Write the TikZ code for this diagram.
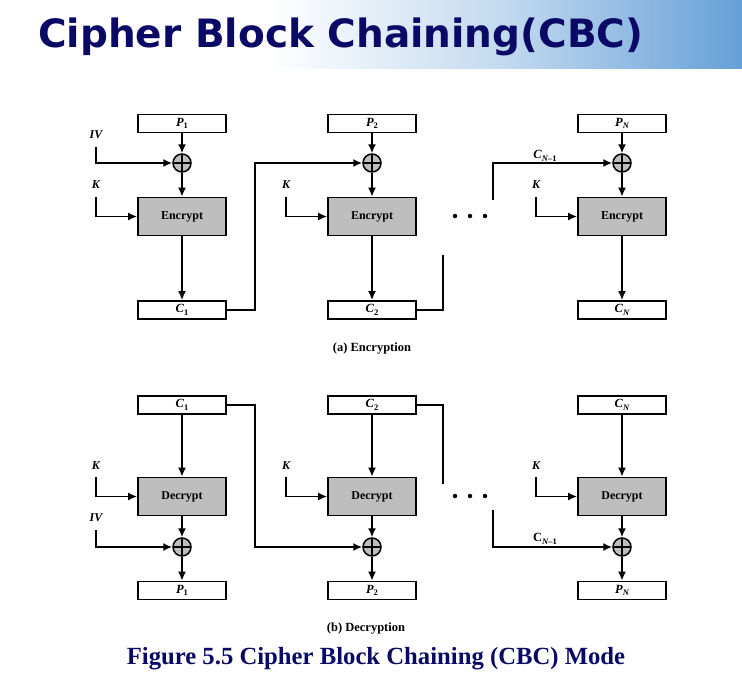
\documentclass[tikz,border=0pt]{standalone}
\usepackage{fontspec}
\setmainfont{Liberation Serif}
\newfontfamily\titlefont{DejaVu Sans}
\usetikzlibrary{arrows.meta}
\definecolor{navy}{HTML}{0A0A66}
\definecolor{bannerblue}{HTML}{66A0D8}
\definecolor{boxgray}{HTML}{BEBEBE}
\newcommand\lab[2]{\textbf{\textit{#1}}\raisebox{-2.5pt}{\fontsize{8.5}{8.5}\selectfont\bfseries #2}}
\begin{document}
\begin{tikzpicture}[x=1pt,y=-1pt,
 txtbox/.style={draw, line width=1.8pt, minimum width=88pt, minimum height=18pt, inner sep=0pt, fill=white, font=\fontsize{12.5}{14}\selectfont},
 cipher/.style={draw, line width=1.8pt, fill=boxgray, minimum width=88pt, minimum height=38pt, inner sep=0pt, font=\bfseries\fontsize{12}{14}\selectfont},
 xor/.style={circle, draw, line width=1.5pt, fill=boxgray, minimum size=18pt, inner sep=0pt, path picture={\draw[line width=1.2pt] (path picture bounding box.north) -- (path picture bounding box.south) (path picture bounding box.west) -- (path picture bounding box.east);}},
 conn/.style={line width=1.6pt},
 arr/.style={conn, -{Latex[length=9pt,width=8pt]}},
 lbl/.style={font=\bfseries\itshape\fontsize{12}{14}\selectfont, inner sep=0pt},
 dot/.style={circle, fill=black, minimum size=4.5pt, inner sep=0pt},
 captext/.style={font=\bfseries\fontsize{12.5}{14}\selectfont},
]
\useasboundingbox (0,0) rectangle (742,678);
% banner
\fill[white] (0,0) rectangle (742,68);
\shade[left color=white, right color=bannerblue, middle color=bannerblue!40] (270,0) rectangle (742,68);
\node[anchor=base west, text=navy, font=\titlefont\bfseries\fontsize{39}{44}\selectfont, inner sep=0pt] (title) at (38,47) {Cipher Block Chaining(CBC)};

% ===== Encryption =====
\foreach \n/\x/\s in {1/182/1, 2/372/2, N/622/{\itshape N}} {
  \node[txtbox] (p\n) at (\x,123.5) {\lab{P}{\s}};
  \node[xor] (x\n) at (\x,163) {};
  \node[cipher] (e\n) at (\x,216.5) {Encrypt};
  \node[txtbox] (c\n) at (\x,310) {\lab{C}{\s}};
  \draw[arr] (p\n) -- (x\n);
  \draw[arr] (x\n) -- (e\n);
  \draw[arr] (e\n) -- (c\n);
}
\node[lbl] (ivA) at (96,135) {IV};
\coordinate (ivAs) at (96,147);
\draw[arr] (ivAs) |- (x1.west);
\foreach \n/\kx in {1/96, 2/286, N/536} {
  \node[lbl] (kA\n) at (\kx,185) {K};
  \coordinate (kAs\n) at (\kx,197);
  \draw[arr] (kAs\n) |- (e\n.west);
}
\draw[arr] (c1.east) -- ++(28,0) |- (x2.west);
\coordinate (fA) at (443,255);
\draw[conn] (c2.east) -| (fA);
\node[dot] (dA1) at (455,216) {};
\node[dot] (dA2) at (470,216) {};
\node[dot] (dA3) at (485,216) {};
\coordinate (gA) at (493,200);
\draw[arr] (gA) |- (xN.west);
\node[inner sep=0pt, font=\fontsize{12.5}{14}\selectfont] (cnA) at (545,156) {\lab{C}{\itshape N\upshape\textendash1}};
\node[captext] (capA) at (372,349) {(a) Encryption};

% ===== Decryption =====
\foreach \n/\x/\s in {1/182/1, 2/372/2, N/622/{\itshape N}} {
  \node[txtbox] (q\n) at (\x,405) {\lab{C}{\s}};
  \node[cipher] (d\n) at (\x,496.5) {Decrypt};
  \node[xor] (y\n) at (\x,547) {};
  \node[txtbox] (r\n) at (\x,590.5) {\lab{P}{\s}};
  \draw[arr] (q\n) -- (d\n);
  \draw[arr] (d\n) -- (y\n);
  \draw[arr] (y\n) -- (r\n);
}
\foreach \n/\kx in {1/96, 2/286, N/536} {
  \node[lbl] (kB\n) at (\kx,466) {K};
  \coordinate (kBs\n) at (\kx,477);
  \draw[arr] (kBs\n) |- (d\n.west);
}
\node[lbl] (ivB) at (96,518) {IV};
\coordinate (ivBs) at (96,530);
\draw[arr] (ivBs) |- (y1.west);
\draw[arr] (q1.east) -- ++(28,0) |- (y2.west);
\coordinate (fB) at (443,484);
\draw[conn] (q2.east) -| (fB);
\node[dot] (dB1) at (455,496) {};
\node[dot] (dB2) at (470,496) {};
\node[dot] (dB3) at (485,496) {};
\coordinate (gB) at (493,510);
\draw[arr] (gB) |- (yN.west);
\node[inner sep=0pt, font=\fontsize{12.5}{14}\selectfont] (cnB) at (545,539) {\textbf{C}\raisebox{-2.5pt}{\fontsize{8.5}{8.5}\selectfont\bfseries\itshape N\upshape\textendash1}};
\node[captext] (capB) at (366,629) {(b) Decryption};

\node[text=navy, font=\bfseries\fontsize{24.7}{28}\selectfont] (fig) at (376,659) {Figure 5.5 Cipher Block Chaining (CBC) Mode};
\end{tikzpicture}
\end{document}
